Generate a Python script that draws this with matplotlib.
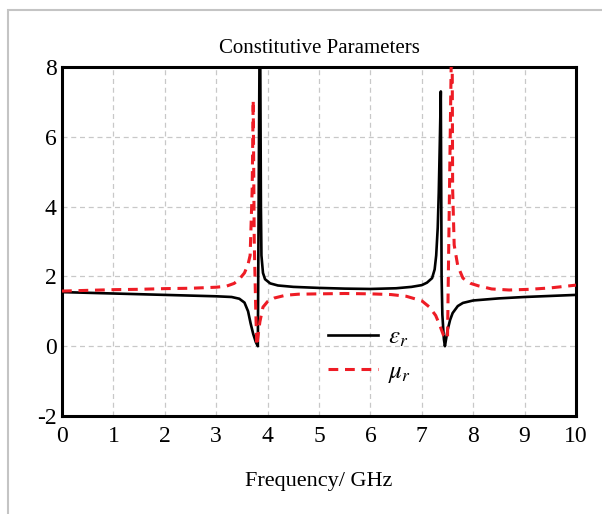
import matplotlib.pyplot as plt
from matplotlib.patches import Rectangle
import numpy as np

plt.rcParams['font.family'] = ['Liberation Serif', 'DejaVu Serif']
plt.rcParams['mathtext.fontset'] = 'stix'
plt.rcParams['axes.unicode_minus'] = False

# relative permittivity
freq_eps = [0, 0.5, 1, 1.5, 2, 2.5, 3, 3.3, 3.45, 3.55, 3.62, 3.67, 3.72, 3.77, 3.81,
            3.845, 3.855, 3.87, 3.88, 3.91, 3.95, 4.05, 4.2, 4.5, 5, 5.5, 6, 6.5, 6.8,
            7.0, 7.1, 7.2, 7.25, 7.28, 7.31, 7.33, 7.35, 7.37, 7.385, 7.40, 7.43, 7.45,
            7.5, 7.55, 7.6, 7.7, 7.8, 8.0, 8.5, 9.0, 9.5, 10]
eps_r = [1.55, 1.53, 1.51, 1.49, 1.47, 1.45, 1.43, 1.41, 1.36, 1.25, 1.0, 0.65, 0.35, 0.12, 0.0,
         9.0, 9.0, 4.0, 2.6, 2.1, 1.92, 1.8, 1.74, 1.7, 1.67, 1.65, 1.64, 1.66, 1.7,
         1.75, 1.82, 1.95, 2.2, 2.6, 3.4, 4.4, 5.8, 7.3, 2.0, 0.9, 0.2, 0.0,
         0.45, 0.75, 0.95, 1.15, 1.24, 1.31, 1.37, 1.41, 1.44, 1.47]

# relative permeability
freq_mu = [0, 0.5, 1, 1.5, 2, 2.5, 3, 3.2, 3.35, 3.45, 3.55, 3.62, 3.66, 3.70, 3.72,
           3.74, 3.77, 3.79, 3.85, 3.91, 4.0, 4.13, 4.35, 4.6, 5, 5.5, 6, 6.4, 6.7,
           7.0, 7.15, 7.27, 7.35, 7.42, 7.5, 7.58, 7.59, 7.6, 7.63, 7.7, 7.8, 7.95,
           8.1, 8.36, 8.7, 9.1, 9.5, 10]
mu_r = [1.58, 1.6, 1.62, 1.63, 1.65, 1.66, 1.69, 1.72, 1.8, 1.92, 2.1, 2.35, 2.6, 4.5, 7.05,
        3.0, 1.0, 0.02, 0.7, 1.12, 1.28, 1.38, 1.46, 1.49, 1.5, 1.51, 1.5, 1.48, 1.43,
        1.3, 1.12, 0.88, 0.6, 0.32, 0.22, 9.0, 9.0, 4.5, 2.9, 2.3, 1.95, 1.8,
        1.73, 1.64, 1.61, 1.63, 1.67, 1.75]

x_ticks = list(range(0, 11))
y_ticks = [-2, 0, 2, 4, 6, 8]

fig = plt.figure(figsize=(6.02, 5.14), dpi=100)

# light grey frame around the picture
fig.patches.append(Rectangle((8 / 602, -0.2), 1.2, 1 - 10 / 514 + 0.2, transform=fig.transFigure,
                             fill=False, edgecolor='#c4c4c4', linewidth=1.5))

ax = fig.add_axes([62 / 602, 98 / 514, 514 / 602, 349 / 514])

ax.plot(freq_eps, eps_r, color='black', linewidth=1.9, label=r'$\varepsilon_r$', zorder=3)
ax.plot(freq_mu, mu_r, color='#ee1c25', linewidth=2.2, linestyle=(0, (3.2, 2.2)),
        label=r'$\mu_r$', zorder=3)

ax.set_xlim(0, 10)
ax.set_ylim(-2, 8)
ax.set_xticks(x_ticks)
ax.set_yticks(y_ticks)
ax.tick_params(length=0, labelsize=17)
ax.tick_params(axis='x', pad=7)
ax.tick_params(axis='y', pad=4)

for v in range(1, 10):
    ax.axvline(v, color='#c8c8c8', linewidth=0.9, linestyle=(0, (4, 3)), zorder=1)
for v in [0, 2, 4, 6]:
    ax.axhline(v, color='#c8c8c8', linewidth=0.9, linestyle=(0, (4, 3)), zorder=1)

for s in ax.spines.values():
    s.set_linewidth(2.2)

ax.set_title('Constitutive Parameters', fontsize=15, pad=10)
ax.set_xlabel('Frequency/ GHz', fontsize=16, labelpad=18)

ax.legend(loc='center', bbox_to_anchor=(0.598, 0.174), frameon=False, fontsize=18,
          handlelength=2.0, handletextpad=0.4, labelspacing=0.45)

fig.savefig('out.png', dpi=100)
